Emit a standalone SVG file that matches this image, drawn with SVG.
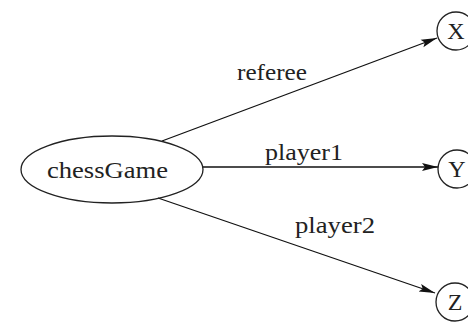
<svg xmlns="http://www.w3.org/2000/svg" width="468" height="322" viewBox="0 0 468 322">
<style>
.n{fill:none;stroke:#222;stroke-width:1.3}
.t{font-family:"Liberation Serif","Times New Roman",serif;font-size:24px;fill:#222}
.e{stroke:#111;stroke-width:1.3;fill:none}
</style>
<defs>
<marker id="ah" markerUnits="userSpaceOnUse" markerWidth="18" markerHeight="10" refX="16" refY="5" orient="auto">
<path d="M0,1 L16,5 L0,9 L3,5 Z" fill="#111"/>
</marker>
</defs>
<rect width="468" height="322" fill="#fff"/>
<g id="connectors">
<line class="e" x1="162" y1="141" x2="437" y2="38" marker-end="url(#ah)"/>
<line class="e" x1="203" y1="167" x2="438" y2="167" marker-end="url(#ah)"/>
<line class="e" x1="158" y1="198" x2="435" y2="293" marker-end="url(#ah)"/>
<text class="t" x="237" y="80" textLength="70" lengthAdjust="spacingAndGlyphs">referee</text>
<text class="t" x="265" y="160" textLength="78" lengthAdjust="spacingAndGlyphs">player1</text>
<text class="t" x="295" y="233" textLength="80" lengthAdjust="spacingAndGlyphs">player2</text>
</g>
<g id="chessGame">
<ellipse class="n" cx="112" cy="169.5" rx="91" ry="33.5"/>
<text class="t" x="47" y="178" textLength="121" lengthAdjust="spacingAndGlyphs">chessGame</text>
</g>
<g id="X">
<circle class="n" cx="456" cy="31" r="19"/>
<text class="t" x="456" y="39" text-anchor="middle">X</text>
</g>
<g id="Y">
<circle class="n" cx="457" cy="169" r="19"/>
<text class="t" x="457" y="177" text-anchor="middle">Y</text>
</g>
<g id="Z">
<circle class="n" cx="455" cy="302" r="19"/>
<text class="t" x="455" y="310" text-anchor="middle">Z</text>
</g>
</svg>
